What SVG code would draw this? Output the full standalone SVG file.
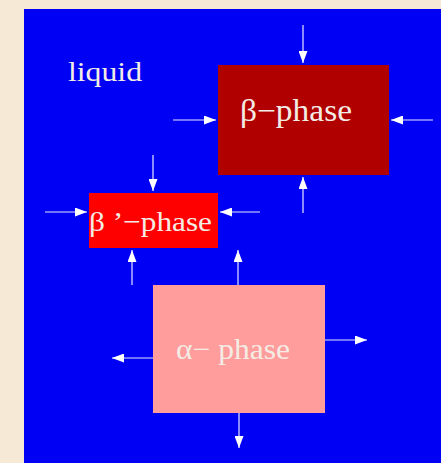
<svg xmlns="http://www.w3.org/2000/svg" width="441" height="463" viewBox="0 0 441 463">
<defs>
<marker id="ah" viewBox="0 0 12 9" refX="12" refY="4.5" markerWidth="12" markerHeight="9" markerUnits="userSpaceOnUse" orient="auto">
<path d="M0,0 L12,4.5 L0,9 Z" fill="#ffffff"/>
</marker>
<style>
.t{font-family:"Liberation Serif",serif;fill:#f4ece4;}
.c line{stroke:#e8e8ff;stroke-width:1.2;marker-end:url(#ah);}
</style>
</defs>
<rect x="0" y="0" width="441" height="463" fill="#f6ead6"/>
<rect x="24" y="9" width="417" height="454" fill="#0000f4"/>
<g id="liquid"><text class="t" x="68" y="81" font-size="27" textLength="74" lengthAdjust="spacingAndGlyphs">liquid</text></g>
<g id="beta"><rect x="218" y="65" width="171" height="110" fill="#b00000"/><text class="t" x="240" y="121" font-size="31" textLength="112" lengthAdjust="spacingAndGlyphs">β−phase</text></g>
<g id="betaprime"><rect x="89" y="193" width="129" height="55" fill="#ff0000"/><text class="t" x="89" y="231" font-size="28" textLength="123" lengthAdjust="spacingAndGlyphs">β ’−phase</text></g>
<g id="alpha"><rect x="153" y="285" width="172" height="128" fill="#ff9c9c"/><text class="t" x="176" y="359" font-size="29" textLength="114" lengthAdjust="spacingAndGlyphs">α− phase</text></g>
<g class="c" id="connectors">
<line x1="303" y1="25" x2="303" y2="63"/>
<line x1="173" y1="120" x2="216" y2="120"/>
<line x1="433" y1="120" x2="391" y2="120"/>
<line x1="303" y1="213" x2="303" y2="177"/>
<line x1="153" y1="155" x2="153" y2="191"/>
<line x1="45" y1="212" x2="87" y2="212"/>
<line x1="260" y1="212" x2="220" y2="212"/>
<line x1="132" y1="285" x2="132" y2="250"/>
<line x1="238" y1="285" x2="238" y2="250"/>
<line x1="153" y1="358" x2="112" y2="358"/>
<line x1="325" y1="340" x2="367" y2="340"/>
<line x1="239" y1="413" x2="239" y2="448"/>
</g>
</svg>
